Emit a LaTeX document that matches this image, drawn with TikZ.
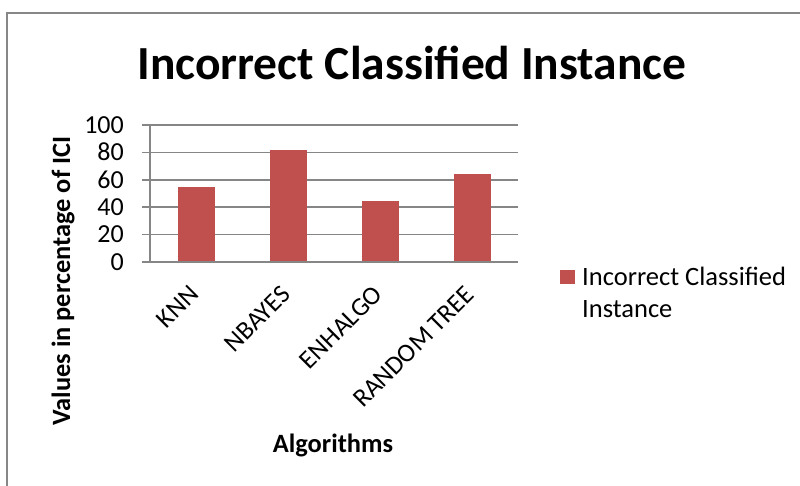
\documentclass[tikz,border=0pt]{standalone}
\usepackage{fontspec}
\setmainfont{Carlito}
\definecolor{barred}{HTML}{C0504D}
\definecolor{gridgray}{HTML}{868686}
\definecolor{framegray}{HTML}{878787}
\begin{document}
\begin{tikzpicture}[x=1pt,y=-1pt,
  grid/.style={draw=gridgray,line width=1.5pt},
  bar/.style={fill=barred,draw=none},
  tick/.style={anchor=base east,inner sep=0pt,font=\fontsize{26}{31}\selectfont},
  cat/.style={anchor=base east,rotate=45,inner sep=0pt,font=\fontsize{26}{31}\selectfont},
  axtitle/.style={inner sep=0pt,font=\fontsize{26.4}{31}\selectfont\bfseries},
  legtext/.style={anchor=base west,inner sep=0pt,font=\fontsize{26.5}{31}\selectfont}]
\useasboundingbox (0,0) rectangle (800,485);
\fill[white] (0,0) rectangle (800,485);
% frame
\draw[framegray,line width=1.3pt] (7,490) -- (7,13) -- (805,13);
% title
\node[inner sep=0pt,anchor=base,font=\fontsize{47.5}{56}\selectfont\bfseries] (title) at (412,79) {Incorrect Classified Instance};
% gridlines
\foreach \v in {20,40,60,80,100}{
  \draw[grid] (142,{262-1.37*\v}) -- (518,{262-1.37*\v});
}
% bars
\foreach \c/\v in {196/55,288/82,380/44.5,472/64}{
  \fill[bar] ({\c-18.5},262) rectangle ({\c+18.5},{262-1.37*\v});
}
% axes
\draw[grid] (150,125) -- (150,262);
\draw[grid] (142,262) -- (518,262);
% tick labels
\foreach \v in {0,20,40,60,80,100}{
  \node[tick] (t\v) at (124,{262-1.37*\v+8.2}) {\v};
}
% category labels
\node[cat] (knn) at (200,296) {KNN};
\node[cat] (nb) at (292,296) {NBAYES};
\node[cat] (enh) at (384,296) {ENHALGO};
\node[cat] (rt) at (476,296) {RANDOM TREE};
% axis titles
\node[axtitle,anchor=base] (xt) at (333,452) {Algorithms};
\node[axtitle,anchor=base,rotate=90] (yt) at (70,281) {Values in percentage of ICI};
% legend
\fill[barred] (560,270) rectangle (575,284);
\node[legtext] (leg1) at (582,285) {Incorrect Classified};
\node[legtext] (leg2) at (582,317) {Instance};
\end{tikzpicture}
\end{document}
